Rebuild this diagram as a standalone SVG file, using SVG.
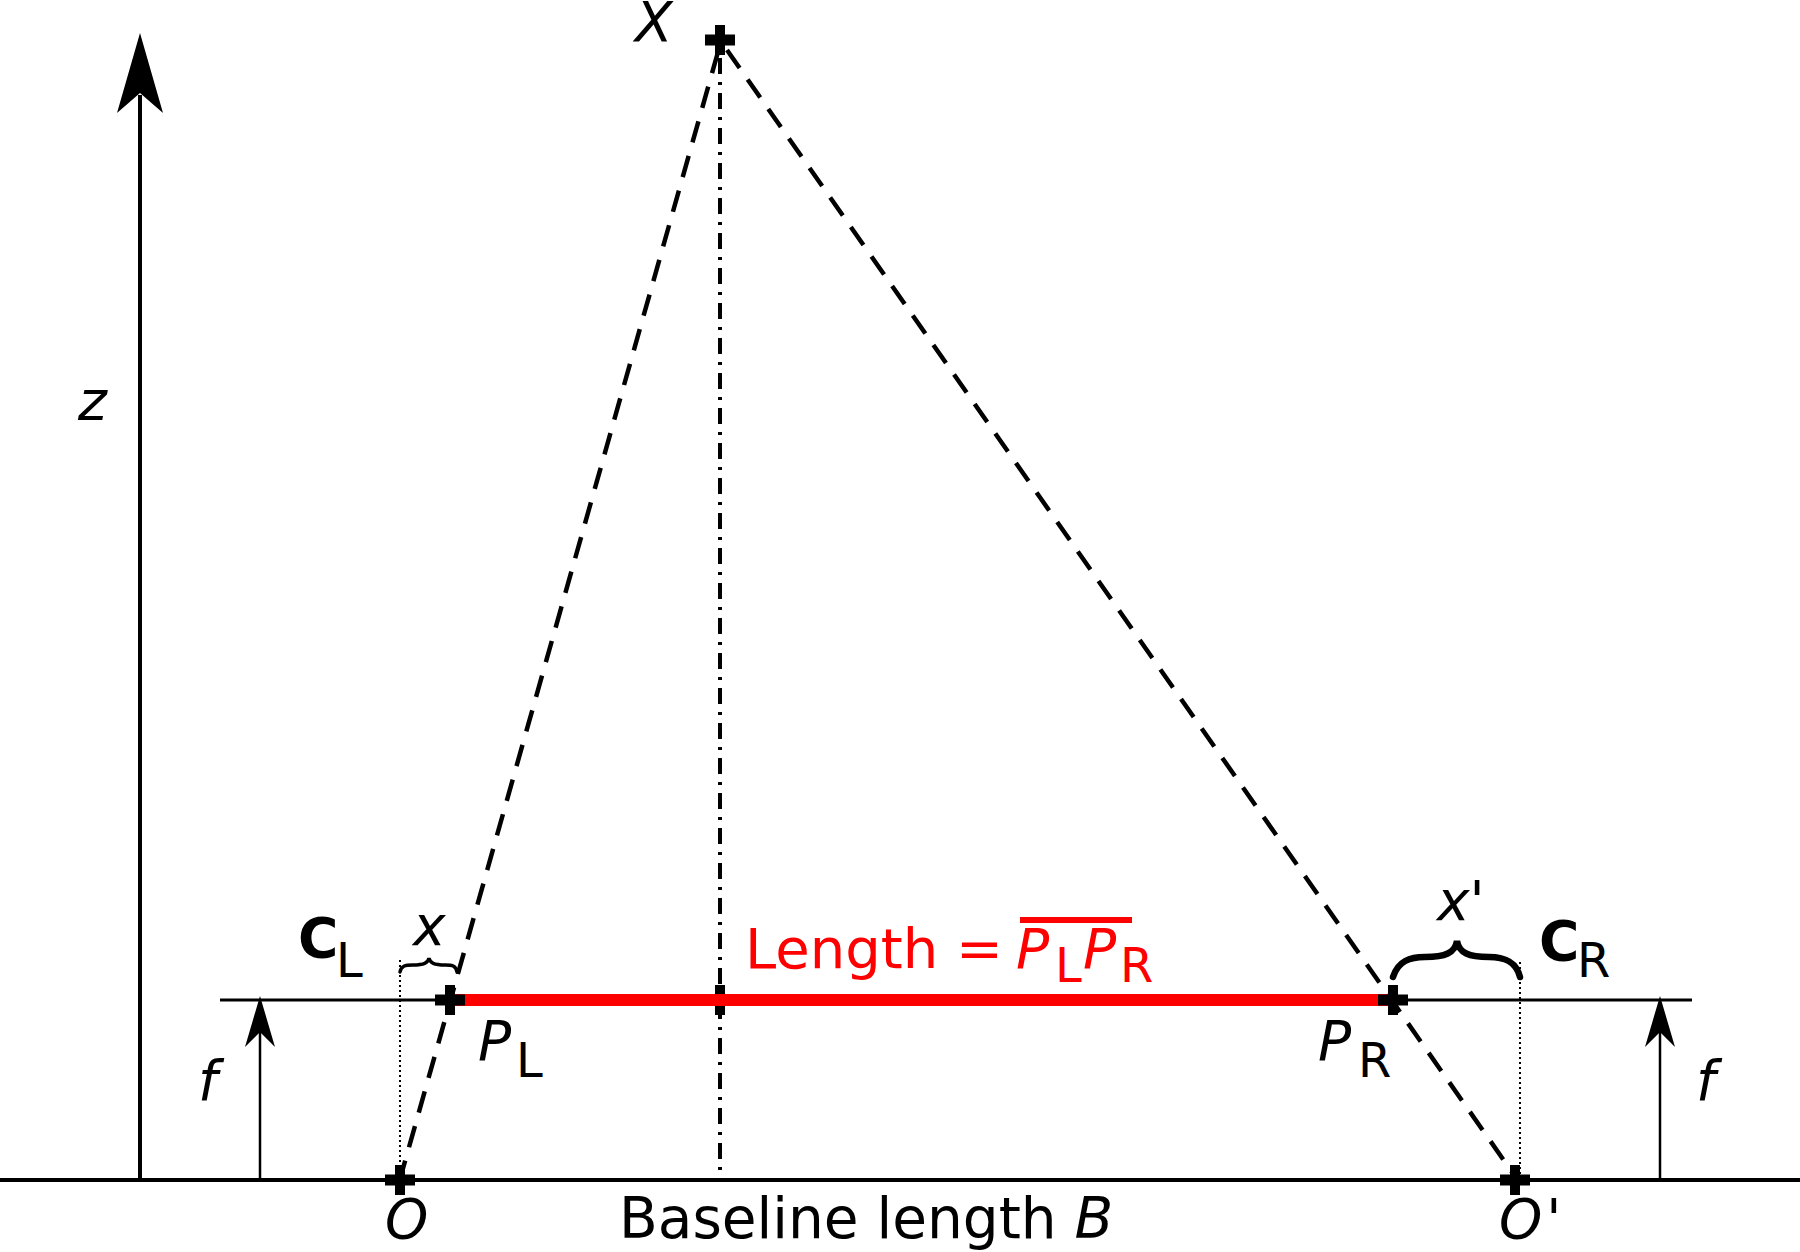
<svg xmlns="http://www.w3.org/2000/svg" width="1800" height="1252" viewBox="0 0 1800 1252">
<style>
text{font-family:"DejaVu Sans","Liberation Sans",sans-serif;fill:#000}
.lbl{font-size:55px}
.it{font-style:italic}
.sub{font-size:48px}
.bold{font-weight:bold}
.red{fill:#ff0000}
.axis{stroke:#000;stroke-width:4;fill:none}
.thin{stroke:#000;stroke-width:3;fill:none}
.dash{stroke:#000;stroke-width:4.5;fill:none;stroke-dasharray:22,14}
.dashdot{stroke:#000;stroke-width:4;fill:none;stroke-dasharray:16,8,3,8}
.dot{stroke:#000;stroke-width:2;fill:none;stroke-dasharray:2,3}
.brace{stroke:#000;fill:none;stroke-linecap:round}
</style>
<defs>
<path id="cross" d="M-15,-5.5 h10 v-9.5 h10 v9.5 h10 v11 h-10 v9.5 h-10 v-9.5 h-10 z" fill="#000"/>
</defs>
<g id="connectors">
<line class="axis" x1="0" y1="1180" x2="1800" y2="1180"/>
<line class="thin" x1="220" y1="1000" x2="1692" y2="1000"/>
<line class="axis" x1="140" y1="1182" x2="140" y2="95"/>
<polygon points="140,33 163,113 140,93 117,113" fill="#000"/>
<line x1="260" y1="1180" x2="260" y2="1030" stroke="#000" stroke-width="2.5"/>
<polygon points="260,996 275,1047 260,1032 245,1047" fill="#000"/>
<line x1="1660" y1="1180" x2="1660" y2="1030" stroke="#000" stroke-width="2.5"/>
<polygon points="1660,996 1675,1047 1660,1032 1645,1047" fill="#000"/>
<line class="dashdot" x1="720" y1="58" x2="720" y2="1174"/>
<line class="dash" x1="718" y1="52" x2="402" y2="1172"/>
<line class="dash" x1="727" y1="50" x2="1512" y2="1172"/>
<line class="dot" x1="400" y1="960" x2="400" y2="1176"/>
<line class="dot" x1="1520" y1="962" x2="1520" y2="1176"/>
<path class="brace" stroke-width="3.5" d="M400,972 C401,966 405,965 413,965 C424,965 428,963 429,958 C430,963 434,965 445,965 C453,965 456,966 457,972"/>
<path class="brace" stroke-width="6.5" d="M1393,977 C1398,961 1410,957 1425,957 C1445,957 1455,953 1457,941 C1459,953 1469,957 1489,957 C1504,957 1516,961 1520,977"/>
<line x1="455" y1="1000" x2="1393" y2="1000" stroke="#ff0000" stroke-width="12"/>
</g>
<g id="node-X"><use href="#cross" x="720" y="40"/><text class="lbl it" x="635" y="41">X</text></g>
<g id="node-PL"><use href="#cross" x="450" y="1000"/><text class="lbl it" x="478" y="1060">P</text><text class="sub" x="516" y="1077">L</text></g>
<g id="node-mid"><rect x="715" y="985" width="10" height="30" fill="#000"/><rect x="710" y="994" width="20" height="12" fill="#ff0000"/></g>
<g id="node-PR"><use href="#cross" x="1393" y="1000"/><text class="lbl it" x="1318" y="1060">P</text><text class="sub" x="1358" y="1077">R</text></g>
<g id="node-O"><use href="#cross" x="400" y="1180"/><text class="lbl it" x="385" y="1238">O</text></g>
<g id="node-O2"><use href="#cross" x="1515" y="1180"/><text class="lbl it" x="1499" y="1238">O<tspan dx="4">'</tspan></text></g>
<g id="labels">
<text class="lbl it" x="78" y="420">z</text>
<text class="lbl it" x="413" y="945">x</text>
<text class="lbl it" x="1437" y="920">x'</text>
<text class="lbl bold" x="298" y="957">C</text><text class="sub" x="336" y="977">L</text>
<text class="lbl bold" x="1539" y="960">C</text><text class="sub" x="1577" y="977">R</text>
<text class="lbl it" x="198" y="1100">f</text>
<text class="lbl it" x="1696" y="1100">f</text>
<text class="lbl" style="font-size:56.5px" x="619" y="1238">Baseline length <tspan class="it">B</tspan></text>
<text class="lbl red" style="font-size:56px" x="745" y="968">Length =</text>
<text class="lbl it red" x="1016" y="968">P</text><text class="sub red" x="1055" y="982">L</text>
<text class="lbl it red" x="1083" y="968">P</text><text class="sub red" x="1120" y="982">R</text>
<rect x="1020" y="917" width="112" height="6" fill="#ff0000"/>
</g>
</svg>
